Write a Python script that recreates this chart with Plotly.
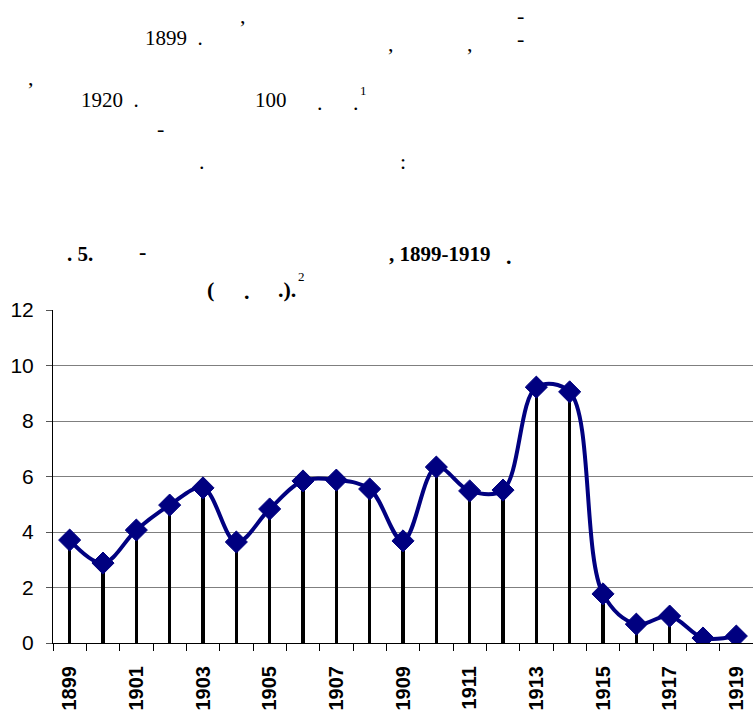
import plotly.graph_objects as go

years = list(range(1899, 1920))
values = [3.71, 2.88, 4.07, 4.97, 5.59, 3.64, 4.83, 5.84, 5.87, 5.55, 3.68,
          6.34, 5.48, 5.51, 9.22, 9.05, 1.77, 0.68, 0.97, 0.18, 0.25]
label_years = years[::2]
y_ticks = [0, 2, 4, 6, 8, 10, 12]

W, H = 753, 715
L, R, T, B = 53, 0, 310, 72
PW, PH = W - L - R, H - T - B


def px(xp):
    return (xp - L) / PW


def py(yp):
    return (H - B - yp) / PH


fig = go.Figure()
fig.add_trace(go.Bar(x=years, y=values, width=0.1, marker=dict(color="black", line=dict(width=0)),
                     showlegend=False, hoverinfo="skip"))
fig.add_trace(go.Scatter(x=years, y=values, mode="lines+markers",
                         line=dict(color="#000080", width=4, shape="spline", smoothing=1.0),
                         marker=dict(symbol="diamond", size=17, color="#000080",
                                     line=dict(color="#000080", width=1)),
                         showlegend=False))
# dummy trace on secondary axis for boundary ticks
fig.add_trace(go.Scatter(x=[years[0]], y=[None], xaxis="x2", showlegend=False, hoverinfo="skip"))

xr = [years[0] - 0.5, years[-1] + 0.5]
fig.update_layout(
    width=W, height=H,
    margin=dict(l=L, r=R, t=T, b=B, autoexpand=False),
    paper_bgcolor="white", plot_bgcolor="white",
    bargap=0,
    xaxis=dict(range=xr, tickmode="array", tickvals=label_years,
               ticktext=[str(y) for y in label_years], tickangle=-90,
               ticks="", showgrid=False, showline=True, linecolor="black", linewidth=1,
               tickfont=dict(family="Liberation Sans, Arial", size=20, color="black",
                             weight="bold"),
               zeroline=False, ticklabelstandoff=14, automargin=False),
    xaxis2=dict(range=xr, overlaying="x", side="bottom", tickmode="array",
                tickvals=[y - 0.5 for y in years] + [years[-1] + 0.5],
                ticks="outside", ticklen=7, tickcolor="black", showticklabels=False,
                showgrid=False, showline=False, zeroline=False, automargin=False),
    yaxis=dict(range=[0, 12], tickmode="array", tickvals=y_ticks, ticks="outside", ticklen=6,
               tickcolor="#555", showline=True, linecolor="black", linewidth=1,
               showgrid=True, gridcolor="#7f7f7f", gridwidth=1, zeroline=False,
               tickfont=dict(family="Liberation Sans, Arial", size=21, color="black"),
               ticklabelstandoff=8, automargin=False),
    font=dict(family="Liberation Serif, Times New Roman", color="black"),
)

serif = "Liberation Serif, Times New Roman"
texts = [
    # (x_px, y_px_center, text, bold, size)
    (243, 15, ",", False, 22),
    (520, 15, "-", False, 22),
    (174, 38, "1899 &nbsp;.", False, 21),
    (391, 43, ",", False, 22),
    (470, 43, ",", False, 22),
    (520, 38, "-", False, 22),
    (31, 78, ",", False, 22),
    (110, 100, "1920 &nbsp;.", False, 21),
    (271, 100, "100", False, 21),
    (320, 102, ".", False, 22),
    (356, 102, ".", False, 22),
    (363, 90, "1", False, 13),
    (160, 128, "-", False, 22),
    (202, 161, ".", False, 22),
    (403, 161, ":", False, 22),
    (80, 254, ". 5.", True, 21),
    (142, 252, "-", True, 22),
    (440, 254, ", 1899-1919", True, 21),
    (509, 256, ".", True, 22),
    (210, 289, "(", True, 22),
    (247, 291, ".", True, 22),
    (287, 289, ".).", True, 22),
    (301, 277, "2", False, 13),
]
for xp, yp, t, bold, sz in texts:
    fig.add_annotation(x=px(xp), y=py(yp), xref="paper", yref="paper", text=t,
                       showarrow=False, xanchor="center", yanchor="middle",
                       font=dict(family=serif, size=sz, color="black",
                                 weight="bold" if bold else "normal"))

fig.write_html("out.html", config={"displayModeBar": False},
               post_script="document.body.style.margin='0';document.body.style.overflow='hidden';")
